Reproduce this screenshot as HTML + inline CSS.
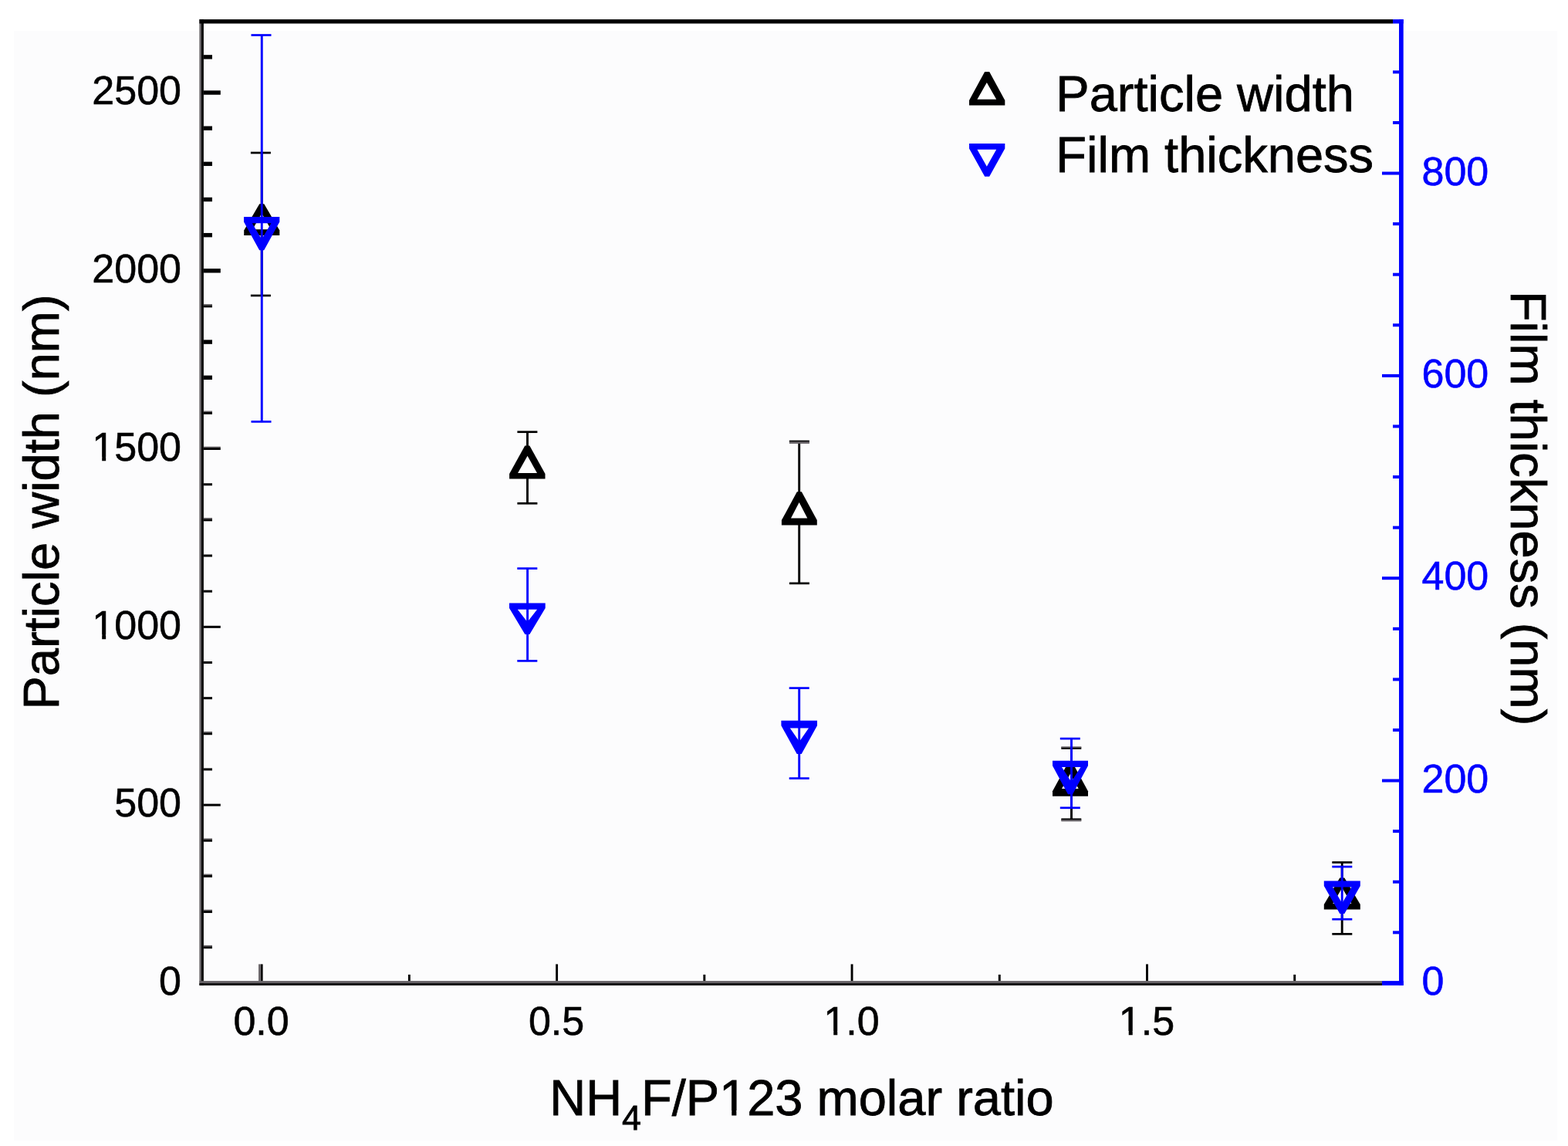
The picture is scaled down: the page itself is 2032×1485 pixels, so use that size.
<!DOCTYPE html><html><head><meta charset="utf-8"><title>Particle width and film thickness vs NH4F/P123 molar ratio</title>
<style>html,body{margin:0;padding:0;background:#fff;}svg{display:block;}text{font-family:"Liberation Sans",Arial,sans-serif;}</style></head><body>
<svg width="2032" height="1485" viewBox="0 0 2032 1485">
<rect x="0" y="0" width="2032" height="1485" fill="#ffffff"/>
<rect x="18" y="40" width="2000" height="1438" fill="#fcfcfd"/>
<rect x="258.40" y="25.10" width="2.60" height="1251.80" fill="#666266"/>
<rect x="261.00" y="25.10" width="2.90" height="1251.80" fill="#000000"/>
<rect x="258.40" y="25.10" width="1546.60" height="5.40" fill="#000000"/>
<rect x="1805.00" y="25.10" width="13.70" height="5.40" fill="#0000ff"/>
<rect x="258.40" y="1271.10" width="1532.60" height="3.00" fill="#666266"/>
<rect x="258.40" y="1274.10" width="1532.60" height="2.80" fill="#000000"/>
<rect x="1791.00" y="1271.10" width="27.70" height="5.80" fill="#0000ff"/>
<rect x="1813.00" y="25.10" width="5.70" height="1251.80" fill="#0000ff"/>
<rect x="263.90" y="1224.85" width="11.10" height="1.50" fill="#666266"/>
<rect x="263.90" y="1226.30" width="11.10" height="2.90" fill="#000000"/>
<rect x="263.90" y="1178.69" width="11.10" height="1.50" fill="#666266"/>
<rect x="263.90" y="1180.14" width="11.10" height="2.90" fill="#000000"/>
<rect x="263.90" y="1132.54" width="11.10" height="1.50" fill="#666266"/>
<rect x="263.90" y="1133.99" width="11.10" height="2.90" fill="#000000"/>
<rect x="263.90" y="1086.38" width="11.10" height="1.50" fill="#666266"/>
<rect x="263.90" y="1087.83" width="11.10" height="2.90" fill="#000000"/>
<rect x="263.90" y="1041.62" width="21.90" height="3.00" fill="#000000"/>
<rect x="263.90" y="995.47" width="11.10" height="3.00" fill="#000000"/>
<rect x="263.90" y="947.92" width="11.10" height="1.50" fill="#666266"/>
<rect x="263.90" y="949.37" width="11.10" height="2.90" fill="#000000"/>
<rect x="263.90" y="903.16" width="11.10" height="3.00" fill="#000000"/>
<rect x="263.90" y="857.01" width="11.10" height="3.00" fill="#000000"/>
<rect x="263.90" y="810.85" width="21.90" height="3.00" fill="#000000"/>
<rect x="263.90" y="764.70" width="11.10" height="3.00" fill="#000000"/>
<rect x="263.90" y="718.54" width="11.10" height="3.00" fill="#000000"/>
<rect x="263.90" y="670.99" width="11.10" height="1.50" fill="#666266"/>
<rect x="263.90" y="672.44" width="11.10" height="2.90" fill="#000000"/>
<rect x="263.90" y="626.23" width="11.10" height="3.00" fill="#000000"/>
<rect x="263.90" y="578.68" width="21.90" height="1.50" fill="#666266"/>
<rect x="263.90" y="580.12" width="21.90" height="2.90" fill="#000000"/>
<rect x="263.90" y="532.52" width="11.10" height="1.50" fill="#666266"/>
<rect x="263.90" y="533.97" width="11.10" height="2.90" fill="#000000"/>
<rect x="263.90" y="486.57" width="11.10" height="5.40" fill="#000000"/>
<rect x="263.90" y="440.41" width="11.10" height="5.40" fill="#000000"/>
<rect x="263.90" y="394.06" width="11.10" height="1.50" fill="#666266"/>
<rect x="263.90" y="395.51" width="11.10" height="2.90" fill="#000000"/>
<rect x="263.90" y="348.10" width="21.90" height="5.40" fill="#000000"/>
<rect x="263.90" y="301.95" width="11.10" height="5.40" fill="#000000"/>
<rect x="263.90" y="255.79" width="11.10" height="5.40" fill="#000000"/>
<rect x="263.90" y="209.64" width="11.10" height="5.40" fill="#000000"/>
<rect x="263.90" y="163.48" width="11.10" height="5.40" fill="#000000"/>
<rect x="263.90" y="117.33" width="21.90" height="5.40" fill="#000000"/>
<rect x="263.90" y="71.17" width="11.10" height="5.40" fill="#000000"/>
<rect x="1805.00" y="1206.32" width="8.00" height="4.00" fill="#0000ff"/>
<rect x="1805.00" y="1140.73" width="8.00" height="4.00" fill="#0000ff"/>
<rect x="1805.00" y="1075.14" width="8.00" height="4.00" fill="#0000ff"/>
<rect x="1791.00" y="1009.56" width="22.00" height="4.00" fill="#0000ff"/>
<rect x="1805.00" y="943.98" width="8.00" height="4.00" fill="#0000ff"/>
<rect x="1805.00" y="878.39" width="8.00" height="4.00" fill="#0000ff"/>
<rect x="1805.00" y="812.81" width="8.00" height="4.00" fill="#0000ff"/>
<rect x="1791.00" y="747.22" width="22.00" height="4.00" fill="#0000ff"/>
<rect x="1805.00" y="681.64" width="8.00" height="4.00" fill="#0000ff"/>
<rect x="1805.00" y="616.05" width="8.00" height="4.00" fill="#0000ff"/>
<rect x="1805.00" y="550.47" width="8.00" height="4.00" fill="#0000ff"/>
<rect x="1791.00" y="484.88" width="22.00" height="4.00" fill="#0000ff"/>
<rect x="1805.00" y="419.30" width="8.00" height="4.00" fill="#0000ff"/>
<rect x="1805.00" y="353.71" width="8.00" height="4.00" fill="#0000ff"/>
<rect x="1805.00" y="288.12" width="8.00" height="4.00" fill="#0000ff"/>
<rect x="1791.00" y="222.54" width="22.00" height="4.00" fill="#0000ff"/>
<rect x="1805.00" y="156.95" width="8.00" height="4.00" fill="#0000ff"/>
<rect x="1805.00" y="91.37" width="8.00" height="4.00" fill="#0000ff"/>
<rect x="337.70" y="1249.40" width="2.90" height="21.70" fill="#000000"/>
<rect x="335.05" y="1249.40" width="2.65" height="21.70" fill="#666266"/>
<rect x="528.92" y="1262.90" width="2.90" height="8.20" fill="#000000"/>
<rect x="720.15" y="1249.40" width="2.90" height="21.70" fill="#000000"/>
<rect x="911.37" y="1262.90" width="2.90" height="8.20" fill="#000000"/>
<rect x="1102.60" y="1249.40" width="2.90" height="21.70" fill="#000000"/>
<rect x="1293.83" y="1262.90" width="2.90" height="8.20" fill="#000000"/>
<rect x="1485.05" y="1249.40" width="2.90" height="21.70" fill="#000000"/>
<rect x="1676.27" y="1262.90" width="2.90" height="8.20" fill="#000000"/>
<text x="235" y="1289.1" font-size="52" text-anchor="end" fill="#000" stroke="#000" stroke-width="0.6">0</text>
<text x="235" y="1058.3" font-size="52" text-anchor="end" fill="#000" stroke="#000" stroke-width="0.6">500</text>
<text x="235" y="827.6" font-size="52" text-anchor="end" fill="#000" stroke="#000" stroke-width="0.6">1000</text>
<text x="235" y="596.8" font-size="52" text-anchor="end" fill="#000" stroke="#000" stroke-width="0.6">1500</text>
<text x="235" y="366.0" font-size="52" text-anchor="end" fill="#000" stroke="#000" stroke-width="0.6">2000</text>
<text x="235" y="135.2" font-size="52" text-anchor="end" fill="#000" stroke="#000" stroke-width="0.6">2500</text>
<text x="1842.5" y="1289.1" font-size="52" fill="#0000ff" stroke="#0000ff" stroke-width="0.6">0</text>
<text x="1842.5" y="1026.8" font-size="52" fill="#0000ff" stroke="#0000ff" stroke-width="0.6">200</text>
<text x="1842.5" y="764.4" font-size="52" fill="#0000ff" stroke="#0000ff" stroke-width="0.6">400</text>
<text x="1842.5" y="502.1" font-size="52" fill="#0000ff" stroke="#0000ff" stroke-width="0.6">600</text>
<text x="1842.5" y="239.7" font-size="52" fill="#0000ff" stroke="#0000ff" stroke-width="0.6">800</text>
<text x="338.6" y="1341" font-size="52" text-anchor="middle" fill="#000" stroke="#000" stroke-width="0.6">0.0</text>
<text x="721.1" y="1341" font-size="52" text-anchor="middle" fill="#000" stroke="#000" stroke-width="0.6">0.5</text>
<text x="1103.5" y="1341" font-size="52" text-anchor="middle" fill="#000" stroke="#000" stroke-width="0.6">1.0</text>
<text x="1486.0" y="1341" font-size="52" text-anchor="middle" fill="#000" stroke="#000" stroke-width="0.6">1.5</text>
<text transform="translate(75.5,914.3) rotate(-90)" x="-5.3" y="0" font-size="65" fill="#000" stroke="#000" stroke-width="0.8">Particle width (nm)</text>
<text transform="translate(1958.4,382.2) rotate(90)" x="-5.3" y="0" font-size="65" fill="#000" stroke="#000" stroke-width="0.8">Film thickness (nm)</text>
<text x="712.2" y="1445" font-size="65" fill="#000" stroke="#000" stroke-width="0.8">NH<tspan font-size="44.7" dy="19.2">4</tspan><tspan dy="-19.2">F/P123 molar ratio</tspan></text>
<rect x="122.00" y="822.00" width="10.20" height="7.00" fill="#fcfcfd"/>
<rect x="137.19" y="822.00" width="9.81" height="7.00" fill="#fcfcfd"/>
<rect x="122.00" y="592.00" width="10.20" height="6.00" fill="#fcfcfd"/>
<rect x="137.19" y="592.00" width="9.81" height="6.00" fill="#fcfcfd"/>
<rect x="1070.00" y="1336.00" width="10.23" height="6.00" fill="#fcfcfd"/>
<rect x="1085.23" y="1336.00" width="9.77" height="6.00" fill="#fcfcfd"/>
<rect x="1452.00" y="1336.00" width="10.73" height="6.00" fill="#fcfcfd"/>
<rect x="1467.73" y="1336.00" width="10.27" height="6.00" fill="#fcfcfd"/>
<rect x="936.00" y="1439.00" width="12.21" height="7.00" fill="#fcfcfd"/>
<rect x="954.35" y="1439.00" width="12.65" height="7.00" fill="#fcfcfd"/>
<rect x="337.75" y="198.00" width="2.90" height="185.00" fill="#000000"/>
<rect x="324.90" y="196.65" width="26.00" height="2.70" fill="#000000"/>
<rect x="324.90" y="381.65" width="26.00" height="2.70" fill="#000000"/>
<rect x="682.05" y="559.70" width="2.90" height="92.60" fill="#000000"/>
<rect x="670.40" y="558.35" width="26.00" height="2.70" fill="#000000"/>
<rect x="670.40" y="650.95" width="26.00" height="2.70" fill="#000000"/>
<rect x="1034.25" y="572.00" width="2.90" height="183.90" fill="#000000"/>
<rect x="1022.90" y="570.65" width="26.00" height="2.70" fill="#000000"/>
<rect x="1022.90" y="754.55" width="26.00" height="2.70" fill="#000000"/>
<rect x="1387.05" y="969.50" width="2.90" height="92.30" fill="#000000"/>
<rect x="1375.30" y="968.15" width="26.00" height="2.70" fill="#000000"/>
<rect x="1375.30" y="1060.45" width="26.00" height="2.70" fill="#000000"/>
<rect x="1737.75" y="1117.50" width="2.90" height="92.80" fill="#000000"/>
<rect x="1726.30" y="1116.15" width="26.00" height="2.70" fill="#000000"/>
<rect x="1726.30" y="1208.95" width="26.00" height="2.70" fill="#000000"/>
<rect x="1022.90" y="572.20" width="26.00" height="2.70" fill="#666266"/>
<rect x="1375.30" y="967.30" width="26.00" height="1.50" fill="#666266"/>
<rect x="1375.30" y="1062.20" width="26.00" height="2.20" fill="#666266"/>
<path d="M336.25,264.20 L342.25,264.20 L362.30,298.50 L362.30,305.00 L316.20,305.00 L316.20,298.50 Z" fill="#000000"/><path d="M339.20,276.50 L351.10,297.20 L327.30,297.20 Z" fill="#ffffff"/>
<path d="M680.30,577.60 L686.30,577.60 L706.50,614.10 L706.50,620.60 L660.10,620.60 L660.10,614.10 Z" fill="#000000"/><path d="M683.55,590.80 L696.00,613.10 L671.10,613.10 Z" fill="#ffffff"/>
<path d="M1032.85,637.30 L1038.85,637.30 L1058.80,674.10 L1058.80,680.60 L1012.90,680.60 L1012.90,674.10 Z" fill="#000000"/><path d="M1035.65,651.00 L1046.30,671.50 L1025.00,671.50 Z" fill="#ffffff"/>
<path d="M1384.00,988.50 L1390.00,988.50 L1410.00,1025.20 L1410.00,1031.70 L1364.00,1031.70 L1364.00,1025.20 Z" fill="#000000"/><path d="M1386.85,1003.00 L1397.70,1022.00 L1376.00,1022.00 Z" fill="#ffffff"/>
<path d="M1736.30,1137.50 L1742.30,1137.50 L1762.80,1171.90 L1762.80,1178.40 L1715.80,1178.40 L1715.80,1171.90 Z" fill="#000000"/><path d="M1739.30,1150.50 L1751.30,1171.00 L1727.30,1171.00 Z" fill="#ffffff"/>
<rect x="337.80" y="45.50" width="2.90" height="500.90" fill="#0000ff"/>
<rect x="325.50" y="44.15" width="26.00" height="2.70" fill="#0000ff"/>
<rect x="325.50" y="545.05" width="26.00" height="2.70" fill="#0000ff"/>
<rect x="682.15" y="736.60" width="2.90" height="119.80" fill="#0000ff"/>
<rect x="670.30" y="735.25" width="26.00" height="2.70" fill="#0000ff"/>
<rect x="670.30" y="855.05" width="26.00" height="2.70" fill="#0000ff"/>
<rect x="1034.25" y="891.60" width="2.90" height="117.00" fill="#0000ff"/>
<rect x="1022.70" y="890.25" width="26.00" height="2.70" fill="#0000ff"/>
<rect x="1022.70" y="1007.25" width="26.00" height="2.70" fill="#0000ff"/>
<rect x="1387.05" y="957.10" width="2.90" height="89.70" fill="#0000ff"/>
<rect x="1373.80" y="955.75" width="26.00" height="2.70" fill="#0000ff"/>
<rect x="1373.80" y="1045.45" width="26.00" height="2.70" fill="#0000ff"/>
<rect x="1737.75" y="1123.10" width="2.90" height="68.10" fill="#0000ff"/>
<rect x="1726.30" y="1121.75" width="26.00" height="2.70" fill="#0000ff"/>
<rect x="1726.30" y="1189.85" width="26.00" height="2.70" fill="#0000ff"/>
<path d="M336.15,324.20 L342.15,324.20 L362.30,287.60 L362.30,281.10 L316.00,281.10 L316.00,287.60 Z M339.10,310.00 L351.40,289.20 L326.80,289.20 Z" fill="#0000ff" fill-rule="evenodd"/>
<path d="M680.35,822.00 L686.35,822.00 L706.70,788.10 L706.70,781.60 L660.00,781.60 L660.00,788.10 Z M683.45,805.90 L696.10,789.70 L670.80,789.70 Z" fill="#0000ff" fill-rule="evenodd"/>
<path d="M1032.70,977.10 L1038.70,977.10 L1059.00,940.30 L1059.00,933.80 L1012.40,933.80 L1012.40,940.30 Z M1035.90,960.90 L1048.00,943.50 L1023.80,943.50 Z" fill="#0000ff" fill-rule="evenodd"/>
<path d="M1384.00,1029.30 L1390.00,1029.30 L1410.00,992.20 L1410.00,985.70 L1364.00,985.70 L1364.00,992.20 Z M1388.25,1013.00 L1400.50,994.00 L1376.00,994.00 Z" fill="#0000ff" fill-rule="evenodd"/>
<path d="M1736.30,1184.10 L1742.30,1184.10 L1762.80,1148.00 L1762.80,1141.50 L1715.80,1141.50 L1715.80,1148.00 Z M1739.25,1170.50 L1751.50,1149.50 L1727.00,1149.50 Z" fill="#0000ff" fill-rule="evenodd"/>
<path d="M1276.15,92.90 L1282.15,92.90 L1302.30,130.10 L1302.30,136.60 L1256.00,136.60 L1256.00,130.10 Z" fill="#000000"/><path d="M1278.80,107.00 L1291.20,128.70 L1266.40,128.70 Z" fill="#ffffff"/>
<path d="M1276.15,228.80 L1282.15,228.80 L1302.30,192.40 L1302.30,185.90 L1256.00,185.90 L1256.00,192.40 Z M1278.80,215.80 L1291.20,193.70 L1266.40,193.70 Z" fill="#0000ff" fill-rule="evenodd"/>
<text x="1368.3" y="144.3" font-size="65" fill="#000" stroke="#000" stroke-width="0.8">Particle width</text>
<text x="1368.3" y="223.2" font-size="65" fill="#000" stroke="#000" stroke-width="0.8">Film thickness</text>
</svg></body></html>
